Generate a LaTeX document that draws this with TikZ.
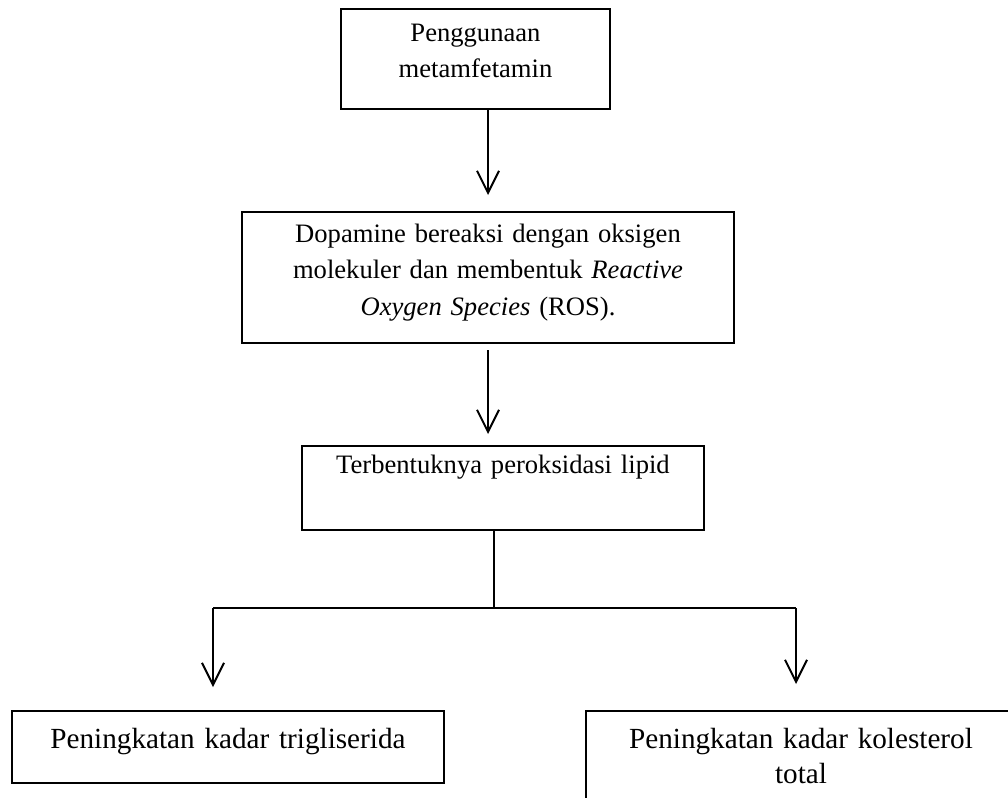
\documentclass[tikz,border=0pt]{standalone}
\usepackage{fontspec}
\setmainfont{Liberation Serif}
\usetikzlibrary{arrows.meta}

\begin{document}
\begin{tikzpicture}[x=0.5pt, y=-0.5pt,
  box/.style={draw, line width=1pt, anchor=north west, inner xsep=5pt,
    inner ysep=0pt, align=center},
  upper/.style={font=\fontsize{13.3}{18.4}\selectfont},
  lower/.style={font=\fontsize{14.6}{17.6}\selectfont},
  arr/.style={line width=1pt, -{Straight Barb[length=11pt, width=11pt]}}]
  \useasboundingbox (0,0) rectangle (1008,798);
  \clip (0,0) rectangle (1008,798);
  % ---- the chain from the top ----
  \node[box, upper, text width=124.5pt, text height=16pt, text depth=34pt]
    (pakai) at (340,8) {Penggunaan\\metamfetamin};
  \node[box, upper, text width=236pt, text height=15pt, text depth=50.5pt]
    (ros) at (241,211)
    {Dopamine bereaksi dengan oksigen\\
     molekuler dan membentuk \textit{Reactive}\\
     \textit{Oxygen Species} (ROS).};
  \node[box, upper, text width=191pt, text height=13.5pt, text depth=28.5pt]
    (lipid) at (301,445) {Terbentuknya peroksidasi lipid};
  % ---- the two outcomes ----
  \node[box, lower, text width=206pt, text height=18.5pt, text depth=17.5pt]
    (tg) at (11,710) {Peningkatan kadar trigliserida};
  \node[box, lower, text width=205pt, text height=18.5pt, text depth=31.5pt]
    (kol) at (585,710) {Peningkatan kadar kolesterol\\total};
  % ---- connectors ----
  \coordinate (split) at (494,608);
  \coordinate (kiri) at (213,608);
  \coordinate (kanan) at (796,608);
  \draw[arr, shorten >=8pt] (pakai.south -| ros.north) -- (ros.north);
  \draw[arr, shorten <=3pt, shorten >=5.5pt] (ros.south) -- (lipid.north -| ros.south);
  \draw[line width=1pt] (lipid.south -| split) -- (split);
  \draw[line width=1pt] (kiri) -- (kanan);
  \draw[arr, shorten >=11.5pt] (kiri) -- (tg.north -| kiri);
  \draw[arr, shorten >=13pt] (kanan) -- (kol.north -| kanan);
\end{tikzpicture}
\end{document}
